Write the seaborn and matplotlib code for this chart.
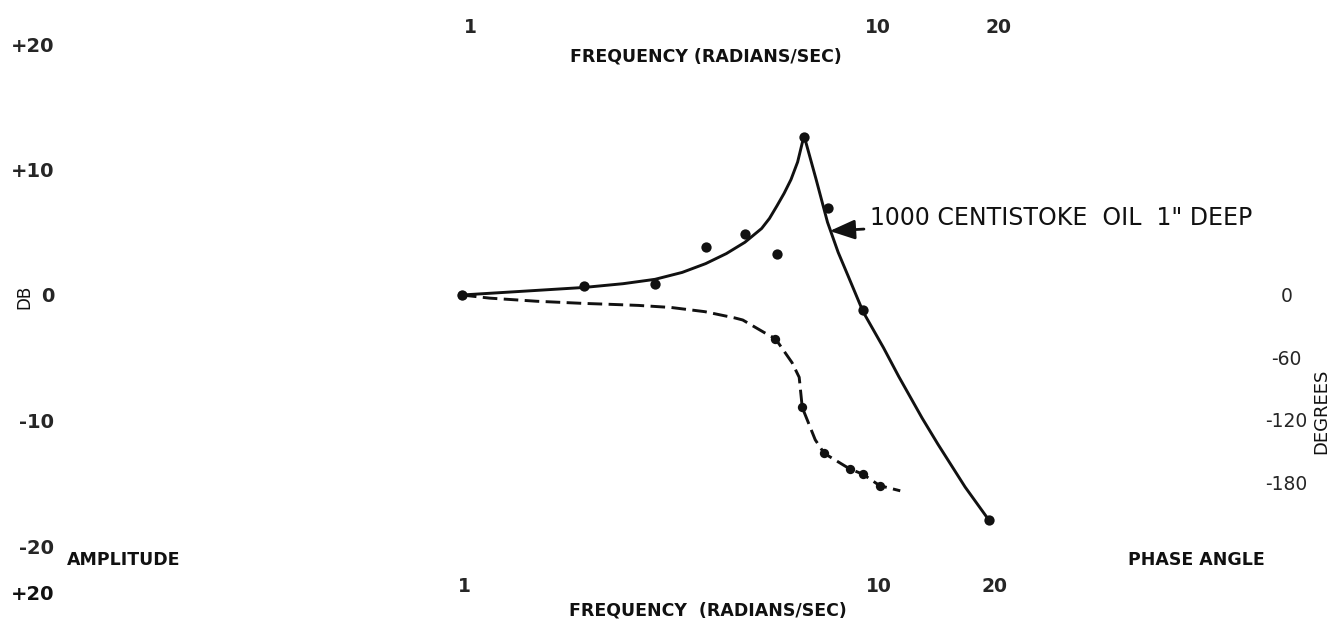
import numpy as np
import pandas as pd
import matplotlib
matplotlib.use("Agg")
import matplotlib.pyplot as plt
from matplotlib.ticker import FixedLocator, NullLocator
from matplotlib.transforms import ScaledTranslation
import seaborn as sns

# ---------------- data ----------------
# measured amplitude points (frequency rad/sec, dB)
amp_freq = [1, 2, 3, 4, 5, 6, 7, 8, 9.8, 20]
amp_db = [0.0, 0.7, 0.9, 3.8, 4.9, 3.3, 12.6, 6.9, -1.2, -17.9]

# faired amplitude curve (solid)
amp_curve_freq = [1, 1.5, 2, 2.5, 3, 3.5, 4, 4.5, 5, 5.5, 5.75, 6, 6.25, 6.5, 6.75, 7,
                  7.5, 8, 8.5, 9, 9.8, 11, 12, 13.7, 15, 17.5, 20]
amp_curve_db = [0.0, 0.35, 0.6, 0.9, 1.25, 1.8, 2.5, 3.3, 4.2, 5.3, 6.1, 7.1, 8.1, 9.2, 10.6, 12.7,
                9.2, 5.8, 3.4, 1.5, -1.35, -4.2, -6.5, -9.8, -11.9, -15.3, -17.9]

# measured phase points (frequency rad/sec, degrees)
phase_freq = [1, 5.95, 6.93, 7.85, 9.08, 9.78, 10.76]
phase_deg = [0, -42, -108, -152, -167, -172, -183]

# faired phase curve (dashed)
phase_curve_freq = [1, 1.17, 1.53, 1.98, 2.34, 2.73, 3.29, 3.98, 4.72, 4.94, 5.58,
                    5.95, 6.54, 6.81, 6.93, 7.46, 7.85, 9.08, 9.78, 10.76, 12.1]
phase_curve_deg = [0, -3, -6, -8, -9, -10, -12, -16, -22, -24, -36,
                   -42, -65, -79, -108, -139, -152, -167, -172, -183, -188]

freq_ticks = [1, 10, 20]
freq_tick_labels = ["1", "10", "20"]
db_ticks = [20, 10, 0, -10, -20]
db_tick_labels = ["+20", "+10", "0", "-10", "-20"]
deg_ticks = [0, -60, -120, -180]
deg_tick_labels = ["0", "-60", "-120", "-180"]

amp_pts = pd.DataFrame({"freq": amp_freq, "db": amp_db})
amp_line = pd.DataFrame({"freq": amp_curve_freq, "db": amp_curve_db})
ph_pts = pd.DataFrame({"freq": phase_freq, "deg": phase_deg})
ph_line = pd.DataFrame({"freq": phase_curve_freq, "deg": phase_curve_deg})

# ---------------- style ----------------
sns.set_theme(style="white")
plt.rcParams["font.family"] = ["DejaVu Sans"]
plt.rcParams["axes.facecolor"] = "white"

W, H = 1332, 622
fig = plt.figure(figsize=(W / 100, H / 100), dpi=100)

L, R, T, B = 179, 1253, 44, 546
ax = fig.add_axes([L / W, 1 - B / H, (R - L) / W, (B - T) / H])
ax.set_xscale("log")
ax.set_xlim(0.2, 90)
ax.set_ylim(-20, 20)

ax2 = ax.twinx()
ax2.set_ylim(-241, 241)

ink = "#111111"

sns.lineplot(data=amp_line, x="freq", y="db", ax=ax, color=ink, lw=2.1,
             sort=False, estimator=None)
sns.scatterplot(data=amp_pts, x="freq", y="db", ax=ax, color=ink, s=55,
                edgecolor=ink, linewidth=0, zorder=5)

sns.lineplot(data=ph_line, x="freq", y="deg", ax=ax2, color=ink, lw=2.1,
             sort=False, estimator=None)
ax2.lines[-1].set_dashes((5, 2.2))
sns.scatterplot(data=ph_pts, x="freq", y="deg", ax=ax2, color=ink, s=45,
                edgecolor=ink, linewidth=0, zorder=5)

for a in (ax, ax2):
    for s in a.spines.values():
        s.set_visible(False)
    a.grid(False)
    a.set_xlabel("")
    a.set_ylabel("")

# bottom frequency ticks
ax.xaxis.set_major_locator(FixedLocator(freq_ticks))
ax.xaxis.set_minor_locator(NullLocator())
ax.set_xticklabels(freq_tick_labels, fontweight="bold", fontsize=13.5)
ax.tick_params(axis="x", which="both", length=0, pad=22)

# top frequency ticks
top = ax.secondary_xaxis("top")
top.xaxis.set_major_locator(FixedLocator(freq_ticks))
top.xaxis.set_minor_locator(NullLocator())
top.set_xticklabels(freq_tick_labels, fontweight="bold", fontsize=13.5)
top.tick_params(axis="x", which="both", length=0, pad=5)
for s in top.spines.values():
    s.set_visible(False)

# small rightward offsets of the hand-lettered frequency labels
for lab, dx in zip(top.get_xticklabels(), [8, 11, 10]):
    lab.set_transform(lab.get_transform() + ScaledTranslation(dx / 100, 0, fig.dpi_scale_trans))
for lab, dx in zip(ax.get_xticklabels(), [2, 12, 6]):
    lab.set_transform(lab.get_transform() + ScaledTranslation(dx / 100, 0, fig.dpi_scale_trans))

# left dB ticks
ax.set_yticks(db_ticks)
ax.set_yticklabels(db_tick_labels, fontweight="bold", fontsize=14)
ax.tick_params(axis="y", length=0, pad=90)

# right phase ticks
ax2.set_yticks(deg_ticks)
ax2.set_yticklabels(deg_tick_labels, fontsize=13.5)
ax2.tick_params(axis="y", length=0, pad=24)
for lab in ax2.get_yticklabels():
    lab.set_horizontalalignment("center")


def ft(x, y, s, **kw):
    fig.text(x / W, 1 - y / H, s, **kw)


bold = dict(fontweight="bold", color=ink)
ft(706, 57, "FREQUENCY (RADIANS/SEC)", ha="center", va="center", fontsize=12.5, **bold)
ft(708, 610, "FREQUENCY  (RADIANS/SEC)", ha="center", va="center", fontsize=12.5, **bold)
ft(67, 560, "AMPLITUDE", ha="left", va="center", fontsize=12.5, **bold)
ft(1265, 560, "PHASE ANGLE", ha="right", va="center", fontsize=12.5, **bold)
ft(54, 595, "+20", ha="right", va="center", fontsize=14, **bold)
ft(24, 297, "DB", ha="center", va="center", rotation=90, fontsize=12, color=ink)
ft(1321, 411, "DEGREES", ha="center", va="center", rotation=90, fontsize=13, color=ink)

# annotation with arrow
ax.annotate('1000 CENTISTOKE  OIL  1" DEEP',
            xy=(8.1, 5.1), xycoords="data",
            xytext=(870 / W, 1 - 218 / H), textcoords="figure fraction",
            ha="left", va="center", fontsize=17, color=ink,
            arrowprops=dict(arrowstyle="-|>,head_length=0.9,head_width=0.35",
                            color=ink, lw=2.0, shrinkA=2, shrinkB=0))

fig.savefig("out.png", dpi=100)
